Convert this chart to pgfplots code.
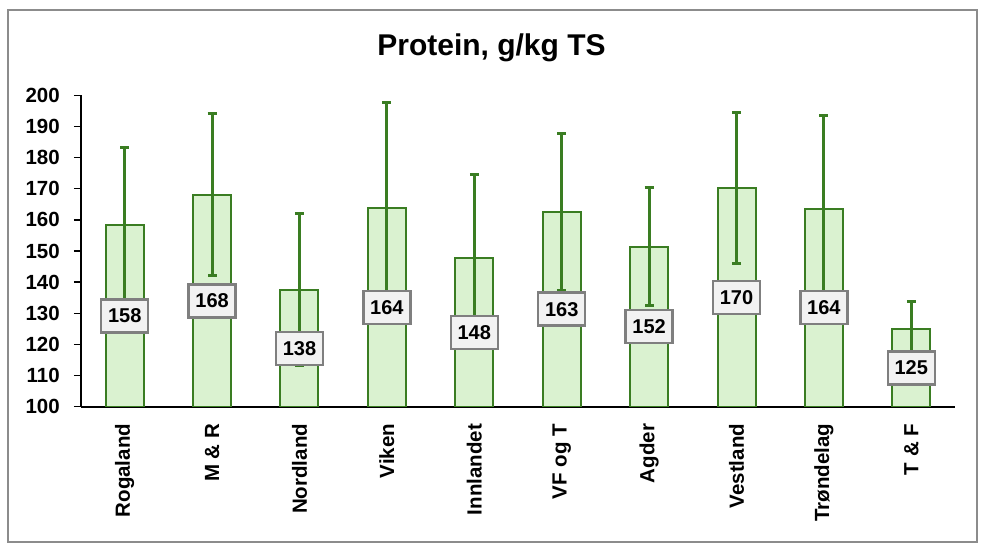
\documentclass[border=0pt]{standalone}
\usepackage{pgfplots}
\pgfplotsset{compat=1.18}
\usepackage{fontspec}
\setmainfont{Liberation Sans}
\definecolor{barfill}{HTML}{DAF2D0}
\definecolor{bargreen}{HTML}{3A7D22}
\definecolor{boxfill}{HTML}{F2F2F2}
\definecolor{boxline}{HTML}{7F7F7F}
\definecolor{framegray}{HTML}{8C8C8C}

\begin{document}
\begin{tikzpicture}
\begin{axis}[
    name=main,
    scale only axis, width=874pt, height=311.4pt,
    xmin=-0.5, xmax=9.5, ymin=100, ymax=200,
    ytick={100,110,...,200},
    xtick={0,...,9},
    xticklabels={Rogaland, M \& R, Nordland, Viken, Innlandet, VF og T, Agder, Vestland, Trøndelag, T \& F},
    axis x line*=bottom, axis y line*=left,
    axis line style={black, line width=2pt},
    tick align=outside, major tick length=7pt,
    ytick style={black, line width=1.5pt},
    xtick style={draw=none},
    /pgf/number format/assume math mode=true,
    tick label style={font=\fontsize{20.5}{24}\selectfont\bfseries},
    yticklabel style={anchor=east, inner sep=0pt, xshift=-14pt},
    xticklabel style={yshift=-10pt, rotate=90, anchor=east, inner sep=0pt},
]
\addplot[ybar, bar width=38pt, fill=barfill, draw=bargreen, line width=2pt,
    error bars/y dir=both, error bars/y explicit,
    error bars/error bar style={bargreen, line width=3pt},
    error bars/error mark options={rotate=90, mark size=4.5pt, line width=3pt, bargreen}]
    coordinates {
        (0,158.3) +- (0,25.0)
        (1,168.1) +- (0,26.0)
        (2,137.5) +- (0,24.4)
        (3,163.9) +- (0,33.8)
        (4,147.8) +- (0,26.8)
        (5,162.5) +- (0,25.1)
        (6,151.4) +- (0,19.0)
        (7,170.3) +- (0,24.3)
        (8,163.6) +- (0,29.8)
        (9,125.0) +- (0,8.8)
    };
\addplot[draw=none, mark=none, nodes near coords, point meta=explicit symbolic,
    nodes near coords align=center,
    every node near coord/.append style={anchor=center, fill=boxfill, draw=boxline, line width=2.5pt,
        minimum width=47pt, minimum height=33pt, inner sep=0pt,
        font=\fontsize{20}{24}\selectfont\bfseries, text=black}]
    coordinates {
        (0,129.2) [158]
        (1,134.0) [168]
        (2,118.7) [138]
        (3,131.9) [164]
        (4,123.9) [148]
        (5,131.3) [163]
        (6,125.7) [152]
        (7,135.0) [170]
        (8,131.8) [164]
        (9,112.5) [125]
    };
\end{axis}
% picture in pixel units, origin at bottom left of the image
\begin{scope}[shift={(main.south west)}, x=1pt, y=1pt, shift={(-81,-146.3)}]
\pgfresetboundingbox
\path[use as bounding box] (0,0) rectangle (988,553);
\draw[framegray, line width=2pt] (8,11) rectangle (977,543);
\node[font=\fontsize{30}{36}\selectfont\bfseries] at (491.5,505) {Protein, g/kg TS};
\end{scope}
\end{tikzpicture}
\end{document}
